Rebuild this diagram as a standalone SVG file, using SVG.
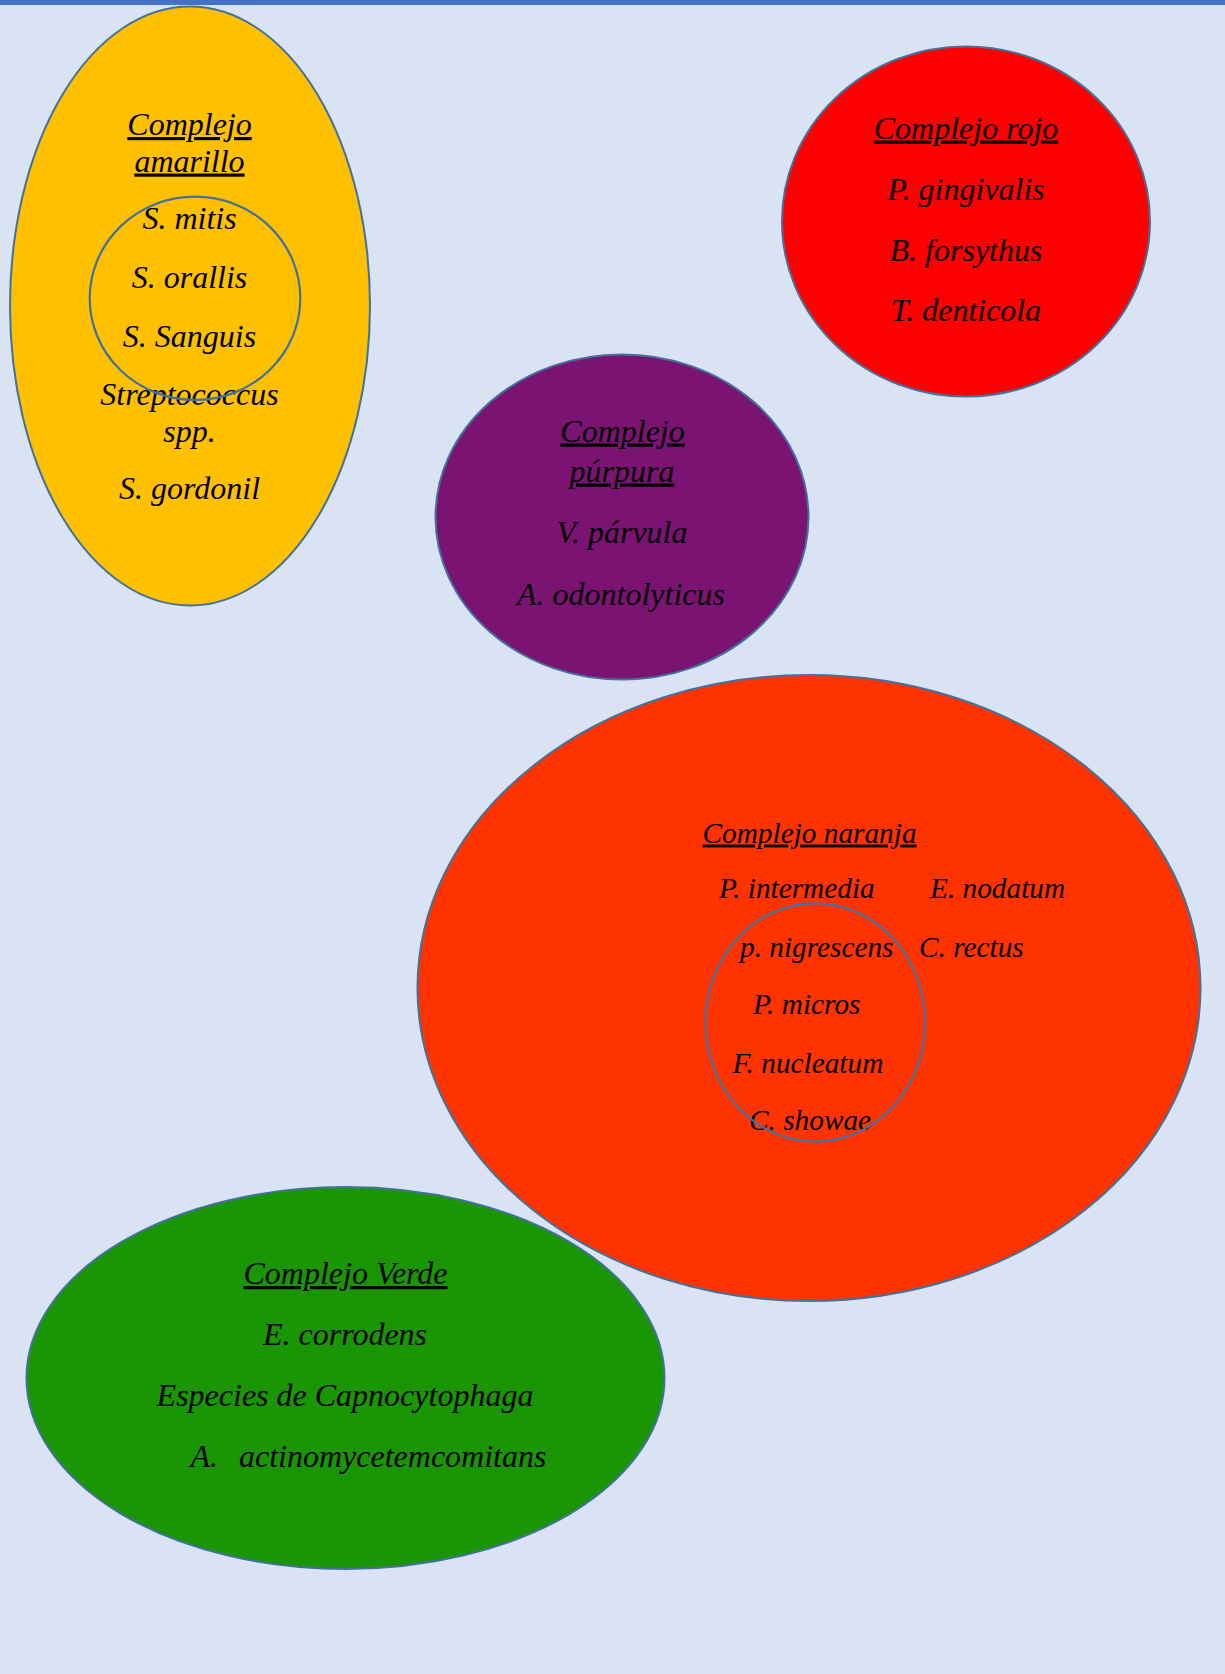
<svg xmlns="http://www.w3.org/2000/svg" width="1225" height="1674" viewBox="0 0 1225 1674">
  <style>
    .shape { stroke: #41719C; stroke-width: 2; }
    .ring { fill: none; stroke: #41719C; stroke-width: 2.2; }
    .t { font-family: "Liberation Serif", "Times New Roman", serif; font-style: italic; font-size: 32px; fill: #000; }
    .c { text-anchor: middle; }
    .s { font-size: 29.3px; }
    .u { text-decoration: underline; }
  </style>
  <rect x="0" y="0" width="1225" height="1674" fill="#DAE3F3"/>
  <rect x="0" y="0" width="1225" height="5" fill="#4472C4"/>

  <g id="complejo-amarillo">
    <ellipse class="shape" cx="190" cy="306" rx="180" ry="299.5" fill="#FFC000"/>
    <text class="t c u" x="189.5" y="135">Complejo</text>
    <text class="t c u" x="189.5" y="171.5">amarillo</text>
    <text class="t c" x="189.5" y="229">S. mitis</text>
    <text class="t c" x="189.5" y="287.5">S. orallis</text>
    <text class="t c" x="189.5" y="346.5">S. Sanguis</text>
    <text class="t c" x="189.5" y="405">Streptococcus</text>
    <text class="t c" x="189.5" y="441.5">spp.</text>
    <text class="t c" x="189.5" y="499">S. gordonil</text>
    <ellipse class="ring" cx="195" cy="298.3" rx="105.3" ry="101.7"/>
  </g>

  <g id="complejo-rojo">
    <ellipse class="shape" cx="966" cy="221.5" rx="184" ry="175" fill="#FF0000"/>
    <text class="t c u" x="966" y="138.5">Complejo rojo</text>
    <text class="t c" x="966" y="200">P. gingivalis</text>
    <text class="t c" x="966" y="260.5">B. forsythus</text>
    <text class="t c" x="966" y="321">T. denticola</text>
  </g>

  <g id="complejo-purpura">
    <ellipse class="shape" cx="622" cy="517" rx="186.5" ry="162.5" fill="#7B1372"/>
    <text class="t c u" x="622.5" y="441.5">Complejo</text>
    <text class="t c u" x="622" y="481.5">púrpura</text>
    <text class="t c" x="622" y="543">V. párvula</text>
    <text class="t c" x="621" y="605">A. odontolyticus</text>
  </g>

  <g id="complejo-naranja">
    <ellipse class="shape" cx="809" cy="988" rx="391.5" ry="313" fill="#FF3300"/>
    <text class="t s u" x="702.5" y="842.5">Complejo naranja</text>
    <text class="t s" x="719" y="898">P. intermedia</text>
    <text class="t s" x="930" y="898">E. nodatum</text>
    <text class="t s" x="740" y="956.5">p. nigrescens</text>
    <text class="t s" x="919" y="956.5">C. rectus</text>
    <text class="t s" x="753" y="1014">P. micros</text>
    <text class="t s" x="732.5" y="1072.5">F. nucleatum</text>
    <text class="t s" x="749" y="1130">C. showae</text>
    <ellipse class="ring" cx="815.3" cy="1022.5" rx="109.8" ry="119.2"/>
  </g>

  <g id="complejo-verde">
    <ellipse class="shape" cx="345.5" cy="1378" rx="319" ry="191" fill="#1A9605"/>
    <text class="t c u" x="345.5" y="1284">Complejo Verde</text>
    <text class="t c" x="345" y="1345">E. corrodens</text>
    <text class="t c" x="345" y="1405.5">Especies de Capnocytophaga</text>
    <text class="t" x="190.5" y="1466.5">A.</text>
    <text class="t" x="239" y="1466.5">actinomycetemcomitans</text>
  </g>

  <g id="connectors"/>
</svg>
